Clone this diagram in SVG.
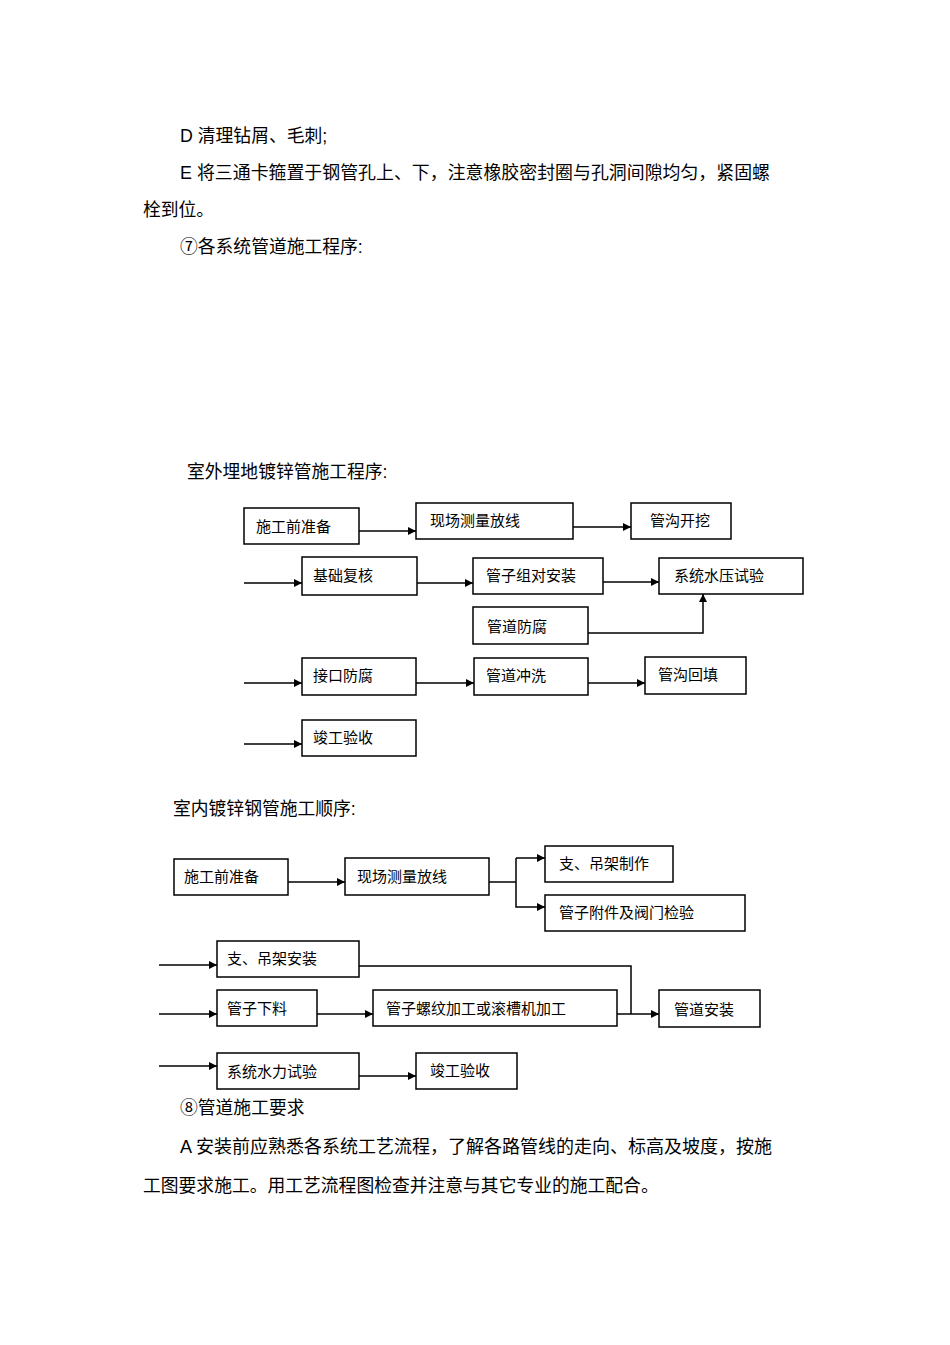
<svg xmlns="http://www.w3.org/2000/svg" width="950" height="1345" viewBox="0 0 950 1345">
<style>
text { font-family: "Liberation Sans", "Noto Sans CJK SC", sans-serif; fill: #000; }
.body { font-size: 17.8px; }
.lbl { font-size: 15px; }
.box { fill: #fff; stroke: #000; stroke-width: 1.5; }
.ln { fill: none; stroke: #000; stroke-width: 1.5; }
.arr { marker-end: url(#ah); }
</style>
<defs>
<marker id="ah" viewBox="0 0 10 10" refX="10" refY="5" markerUnits="userSpaceOnUse" markerWidth="10" markerHeight="8" orient="auto">
<path d="M0,0 L10,5 L0,10 z" fill="#000"/>
</marker>
</defs>
<rect width="950" height="1345" fill="#fff"/>

<g id="text-top">
<text class="body" x="180" y="142">D 清理钻屑、毛刺;</text>
<text class="body" x="180" y="179" textLength="590" lengthAdjust="spacingAndGlyphs">E 将三通卡箍置于钢管孔上、下，注意橡胶密封圈与孔洞间隙均匀，紧固螺</text>
<text class="body" x="143" y="216">栓到位。</text>
<text class="body" x="180" y="253">⑦各系统管道施工程序:</text>
</g>

<g id="title1"><text class="body" x="187" y="478">室外埋地镀锌管施工程序:</text></g>

<g id="connectors">
<path class="ln arr" d="M359,531 H416"/>
<path class="ln arr" d="M573,527 H631"/>
<path class="ln arr" d="M244,583 H302"/>
<path class="ln arr" d="M417,583 H473"/>
<path class="ln arr" d="M603,582 H659"/>
<path class="ln arr" d="M588,633 H703 V594"/>
<path class="ln arr" d="M244,683 H302"/>
<path class="ln arr" d="M416,683 H474"/>
<path class="ln arr" d="M588,683 H645"/>
<path class="ln arr" d="M244,744 H302"/>

<path class="ln arr" d="M288,882 H345"/>
<path class="ln" d="M489,882 H516"/>
<path class="ln arr" d="M516,858 V907 H545"/>
<path class="ln arr" d="M516,858 H545"/>
<path class="ln arr" d="M159,965 H217"/>
<path class="ln" d="M359,966 H631 V1014"/>
<path class="ln arr" d="M159,1014 H217"/>
<path class="ln arr" d="M317,1014 H373"/>
<path class="ln arr" d="M617,1014 H659"/>
<path class="ln arr" d="M159,1066 H217"/>
<path class="ln arr" d="M359,1076 H416"/>
</g>

<g id="n1"><rect class="box" x="244" y="508" width="115" height="36"/><text class="lbl" x="256" y="532">施工前准备</text></g>
<g id="n2"><rect class="box" x="416" y="503" width="157" height="36"/><text class="lbl" x="430" y="526">现场测量放线</text></g>
<g id="n3"><rect class="box" x="631" y="503" width="100" height="36"/><text class="lbl" x="650" y="526">管沟开挖</text></g>
<g id="n4"><rect class="box" x="302" y="557" width="115" height="38"/><text class="lbl" x="313" y="581">基础复核</text></g>
<g id="n5"><rect class="box" x="473" y="558" width="130" height="36"/><text class="lbl" x="486" y="581">管子组对安装</text></g>
<g id="n6"><rect class="box" x="659" y="558" width="144" height="36"/><text class="lbl" x="674" y="581">系统水压试验</text></g>
<g id="n7"><rect class="box" x="473" y="607" width="115" height="37"/><text class="lbl" x="487" y="632">管道防腐</text></g>
<g id="n8"><rect class="box" x="302" y="658" width="114" height="37"/><text class="lbl" x="313" y="681">接口防腐</text></g>
<g id="n9"><rect class="box" x="474" y="658" width="114" height="37"/><text class="lbl" x="486" y="681">管道冲洗</text></g>
<g id="n10"><rect class="box" x="645" y="657" width="101" height="37"/><text class="lbl" x="658" y="680">管沟回填</text></g>
<g id="n11"><rect class="box" x="302" y="720" width="114" height="36"/><text class="lbl" x="313" y="743">竣工验收</text></g>

<g id="title2"><text class="body" x="173" y="815">室内镀锌钢管施工顺序:</text></g>

<g id="m1"><rect class="box" x="174" y="859" width="114" height="36"/><text class="lbl" x="184" y="882">施工前准备</text></g>
<g id="m2"><rect class="box" x="345" y="858" width="144" height="37"/><text class="lbl" x="357" y="882">现场测量放线</text></g>
<g id="m3"><rect class="box" x="545" y="846" width="128" height="36"/><text class="lbl" x="559" y="869">支、吊架制作</text></g>
<g id="m4"><rect class="box" x="545" y="895" width="200" height="36"/><text class="lbl" x="559" y="918">管子附件及阀门检验</text></g>
<g id="m5"><rect class="box" x="217" y="941" width="142" height="36"/><text class="lbl" x="227" y="964">支、吊架安装</text></g>
<g id="m6"><rect class="box" x="217" y="990" width="100" height="36"/><text class="lbl" x="227" y="1014">管子下料</text></g>
<g id="m7"><rect class="box" x="373" y="990" width="244" height="36"/><text class="lbl" x="386" y="1014">管子螺纹加工或滚槽机加工</text></g>
<g id="m8"><rect class="box" x="659" y="990" width="101" height="37"/><text class="lbl" x="674" y="1015">管道安装</text></g>
<g id="m9"><rect class="box" x="217" y="1053" width="142" height="36"/><text class="lbl" x="227" y="1077">系统水力试验</text></g>
<g id="m10"><rect class="box" x="416" y="1053" width="101" height="36"/><text class="lbl" x="430" y="1076">竣工验收</text></g>

<g id="text-bottom">
<text class="body" x="180" y="1114">⑧管道施工要求</text>
<text class="body" x="180" y="1153" textLength="592" lengthAdjust="spacingAndGlyphs">A 安装前应熟悉各系统工艺流程，了解各路管线的走向、标高及坡度，按施</text>
<text class="body" x="143" y="1192">工图要求施工。用工艺流程图检查并注意与其它专业的施工配合。</text>
</g>
</svg>
